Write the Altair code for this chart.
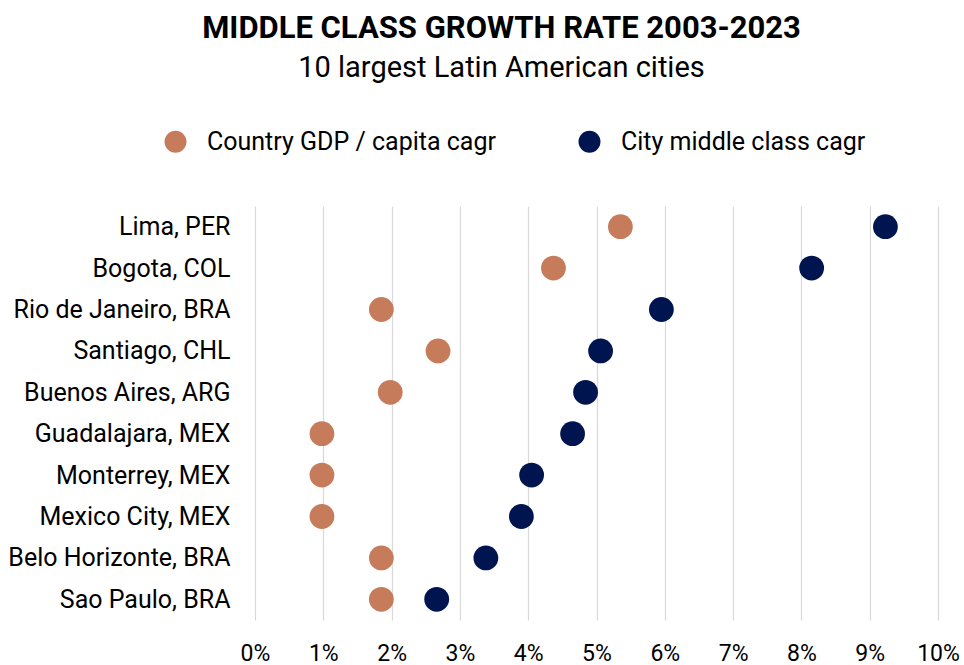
import altair as alt
import pandas as pd

cities = [
    "Lima, PER", "Bogota, COL", "Rio de Janeiro, BRA", "Santiago, CHL",
    "Buenos Aires, ARG", "Guadalajara, MEX", "Monterrey, MEX",
    "Mexico City, MEX", "Belo Horizonte, BRA", "Sao Paulo, BRA",
]
gdp_cagr = [5.35, 4.37, 1.85, 2.68, 1.98, 0.98, 0.98, 0.98, 1.85, 1.85]
city_cagr = [9.23, 8.15, 5.95, 5.06, 4.84, 4.65, 4.05, 3.90, 3.38, 2.66]
series = ["Country GDP / capita cagr", "City middle class cagr"]
colors = ["#C67C5A", "#001450"]
x_ticks = list(range(0, 11))

rows = []
for c, g, m in zip(cities, gdp_cagr, city_cagr):
    rows.append({"city": c, "series": series[0], "value": g})
    rows.append({"city": c, "series": series[1], "value": m})
df = pd.DataFrame(rows)

FONT = "Roboto"

chart = alt.Chart(df).mark_circle(size=615, opacity=1).encode(
    x=alt.X("value:Q",
            scale=alt.Scale(domain=[0, 10], nice=False, zero=True),
            axis=alt.Axis(values=x_ticks, labelExpr="datum.value + '%'",
                          title=None, domain=False, ticks=False,
                          grid=True, gridColor="#d9d9d9", gridWidth=1.2,
                          labelFontSize=23, labelFont=FONT, labelColor="#000",
                          labelPadding=22, labelFlush=False)),
    y=alt.Y("city:N", sort=cities,
            axis=alt.Axis(title=None, domain=False, ticks=False, grid=False,
                          labelFontSize=25, labelFont=FONT, labelColor="#000",
                          labelPadding=25, labelLimit=0)),
    color=alt.Color("series:N",
                    scale=alt.Scale(domain=series, range=colors),
                    legend=alt.Legend(title=None, orient="none",
                                      direction="horizontal", columns=2,
                                      legendX=-92, legendY=-77,
                                      symbolType="circle", symbolSize=480,
                                      symbolOpacity=1, symbolStrokeWidth=0,
                                      labelFontSize=25, labelFont=FONT,
                                      labelColor="#000", labelOffset=19,
                                      columnPadding=81, padding=0,
                                      labelLimit=0)),
).properties(
    width=683,
    height=414,
    padding={"left": 255, "top": 206, "right": 26, "bottom": 45},
    autosize=alt.AutoSizeParams(type="none"),
    title=alt.TitleParams(
        text="MIDDLE CLASS GROWTH RATE 2003-2023",
        subtitle="10 largest Latin American cities",
        anchor="middle", frame="group", dx=-95, offset=45,
        font=FONT, fontSize=31, fontWeight="bold", color="#000",
        subtitleFont=FONT, subtitleFontSize=29, subtitleColor="#000",
        subtitlePadding=9,
    ),
).configure_view(stroke=None)

chart.save("out.html", embed_options={"renderer": "svg", "actions": False})
